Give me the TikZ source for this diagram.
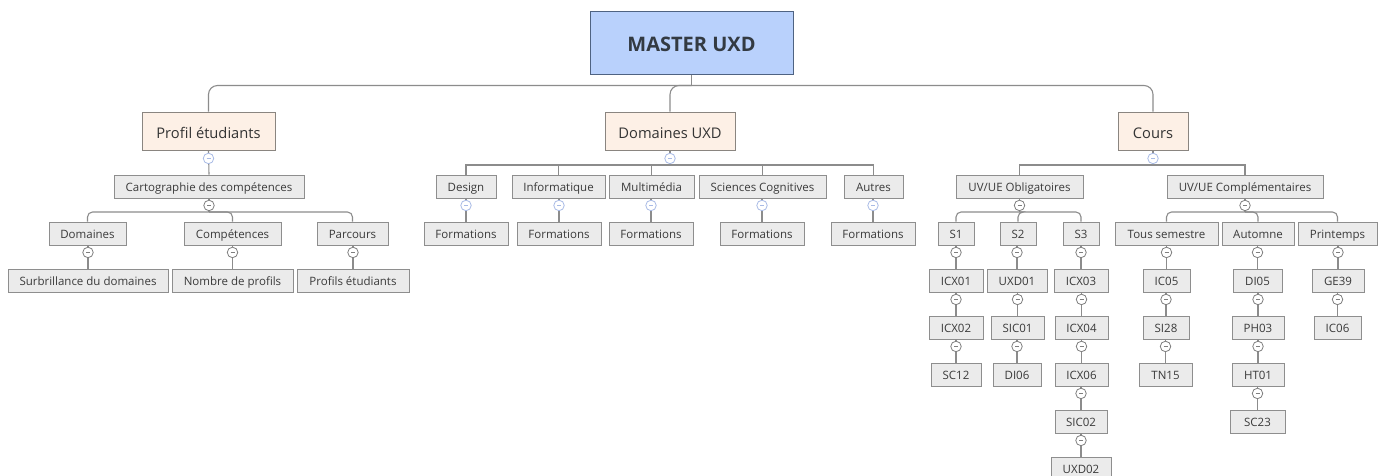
\documentclass[tikz,border=0pt]{standalone}
\usepackage{fontspec}
\setmainfont{Open Sans}
\usetikzlibrary{calc}
\tikzset{
  box/.style={draw=boxline,fill=boxfill,line width=.9pt,inner sep=0pt,text=txt,text height=12pt,text depth=2pt,font=\fontsize{11.5}{13}\selectfont},
  topic/.style={draw=topline,fill=topfill,line width=.9pt,inner sep=0pt,text=txt!90!black,text height=16pt,text depth=2.5pt,font=\fontsize{14.7}{18}\selectfont},
  rootbox/.style={draw=rootline,fill=rootfill,line width=1pt,inner sep=0pt,text=rootxt,text height=20pt,text depth=1.6pt,font=\fontsize{20}{24}\selectfont\bfseries},
  link/.style={draw=linkc,line width=1.1pt},
  toggle/.style={circle,draw=#1,fill=white,line width=.8pt,minimum size=10.5pt,inner sep=0pt,
    path picture={\draw[#1,line width=.8pt] ([xshift=-2pt]path picture bounding box.center) -- ([xshift=2pt]path picture bounding box.center);}},
  toggle/.default=togc,
}
\definecolor{boxline}{HTML}{8E8E8E}
\definecolor{boxfill}{HTML}{EBEBEB}
\definecolor{topline}{HTML}{8A8580}
\definecolor{topfill}{HTML}{FDF0E6}
\definecolor{rootline}{HTML}{4F6382}
\definecolor{rootfill}{HTML}{B9D1FC}
\definecolor{linkc}{HTML}{8C8C8C}
\definecolor{togc}{HTML}{7F7F7F}
\definecolor{togb}{HTML}{A9BBE6}
\definecolor{txt}{HTML}{3A3A3A}
\definecolor{rootxt}{HTML}{333A42}
% \bx{style}{name}{x1}{x2}{y1}{y2}{text}
\newcommand{\bx}[7]{\node[#1,minimum width={(#4-#3)*1pt},minimum height={(#6-#5)*1pt}] (#2) at ({(#3+#4)/2},{(#5+#6)/2}) {#7};}
\newcommand{\sbx}[5]{\bx{box}{#1}{#2}{#3}{#4}{#4+23}{#5}}
% \chain{a}{b}: parent a to child b through a's toggle
\newcommand{\chain}[3][togc]{%
  \coordinate (#2-j) at (#2.south -| #3.north);
  \draw[link] (#2-j) -- (#3.north);
  \node[toggle=#1] (#2-t) at ($(#2-j)+(0,7)$) {};}
\begin{document}
\begin{tikzpicture}[x=1pt,y=-1pt]
\useasboundingbox[fill=white] (0,0) rectangle (1386,475);
% nodes
\bx{rootbox}{m}{590}{793}{11}{74}{MASTER UXD}
\bx{topic}{pe}{142}{275}{112}{150.5}{Profil étudiants}
\bx{topic}{du}{605}{735}{112}{150.5}{Domaines UXD}
\bx{topic}{co}{1118}{1188}{112}{150.5}{Cours}
% Profil
\sbx{ca}{114}{304}{175}{Cartographie des compétences}
\sbx{dm}{49}{126}{222}{Domaines}
\sbx{cp}{184}{281}{222}{Compétences}
\sbx{pa}{317}{388}{222}{Parcours}
\sbx{su}{8}{168}{269}{Surbrillance du domaines}
\sbx{no}{172}{293}{269}{Nombre de profils}
\sbx{pr}{297}{409}{269}{Profils étudiants}
% Domaines
\sbx{de}{436}{496}{175}{Design}
\sbx{in}{512}{605}{175}{Informatique}
\sbx{mu}{609}{694}{175}{Multimédia}
\sbx{sc}{699}{826}{175}{Sciences Cognitives}
\sbx{au}{844}{903}{175}{Autres}
\sbx{f1}{424}{508}{222}{Formations}
\sbx{f2}{517}{601}{222}{Formations}
\sbx{f3}{609}{693}{222}{Formations}
\sbx{f4}{720}{804}{222}{Formations}
\sbx{f5}{831}{915}{222}{Formations}
% Cours
\sbx{uo}{956}{1083}{175}{UV/UE Obligatoires}
\sbx{uc}{1167}{1323}{175}{UV/UE Complémentaires}
\sbx{s1}{938}{974}{222}{S1}
\sbx{s2}{1000}{1036}{222}{S2}
\sbx{s3}{1063}{1099}{222}{S3}
\sbx{to}{1115}{1218}{222}{Tous semestre}
\sbx{at}{1222}{1294}{222}{Automne}
\sbx{pt}{1298}{1377}{222}{Printemps}
\sbx{a1}{929}{983}{269}{ICX01}
\sbx{a2}{929}{983}{316}{ICX02}
\sbx{a3}{931}{981}{363}{SC12}
\sbx{b1}{987}{1047}{269}{UXD01}
\sbx{b2}{991}{1044}{316}{SIC01}
\sbx{b3}{993}{1041}{363}{DI06}
\sbx{c1}{1054}{1108}{269}{ICX03}
\sbx{c2}{1055}{1108}{316}{ICX04}
\sbx{c3}{1055}{1108}{363}{ICX06}
\sbx{c4}{1055}{1107}{410}{SIC02}
\sbx{c5}{1051}{1111}{457}{UXD02}
\sbx{d1}{1143}{1190}{269}{IC05}
\sbx{d2}{1143}{1189}{316}{SI28}
\sbx{d3}{1139}{1192}{363}{TN15}
\sbx{e1}{1233}{1282}{269}{DI05}
\sbx{e2}{1232}{1284}{316}{PH03}
\sbx{e3}{1232}{1284}{363}{HT01}
\sbx{e4}{1230}{1285}{410}{SC23}
\sbx{g1}{1312}{1364}{269}{GE39}
\sbx{g2}{1314}{1361}{316}{IC06}
% root bus
\coordinate (mb) at ($(m.south)+(0,11)$);
\draw[link] (m.south) -- (mb);
\foreach \c in {pe,du,co} \draw[link,rounded corners=9pt] (mb) -| (\c.north);
% topic buses
\foreach \p/\by/\r/\kids in {du/165/0/{de,in,mu,sc,au},co/165/0/{uo,uc},ca/212/5/{dm,cp,pa},uo/212/5/{s1,s2,s3},uc/212/5/{to,at,pt}}{
  \coordinate (\p-b) at (\p.south |- 0,\by);
  \draw[link] (\p.south) -- (\p-b);
  \foreach \k in \kids \draw[link,rounded corners=\r pt] (\p-b) -| (\k.north);
}
\draw[link] (pe.south) -- (ca.north);
% chains
\chain{dm}{su}\chain{cp}{no}\chain{pa}{pr}
\chain[togb]{de}{f1}\chain[togb]{in}{f2}\chain[togb]{mu}{f3}\chain[togb]{sc}{f4}\chain[togb]{au}{f5}
\chain{s1}{a1}\chain{a1}{a2}\chain{a2}{a3}
\chain{s2}{b1}\chain{b1}{b2}\chain{b2}{b3}
\chain{s3}{c1}\chain{c1}{c2}\chain{c2}{c3}\chain{c3}{c4}\chain{c4}{c5}
\chain{to}{d1}\chain{d1}{d2}\chain{d2}{d3}
\chain{at}{e1}\chain{e1}{e2}\chain{e2}{e3}\chain{e3}{e4}
\chain{pt}{g1}\chain{g1}{g2}
% toggles on bus parents
\node[toggle=togb] (pe-t) at ($(pe.south)+(0,7.5)$) {};
\node[toggle=togb] (du-t) at ($(du.south)+(0,7.5)$) {};
\node[toggle=togb] (co-t) at ($(co.south)+(0,7.5)$) {};
\node[toggle=togc] (ca-t) at ($(ca.south)+(0,7)$) {};
\node[toggle=togc] (uo-t) at ($(uo.south)+(0,7)$) {};
\node[toggle=togc] (uc-t) at ($(uc.south)+(0,7)$) {};
\end{tikzpicture}
\end{document}
